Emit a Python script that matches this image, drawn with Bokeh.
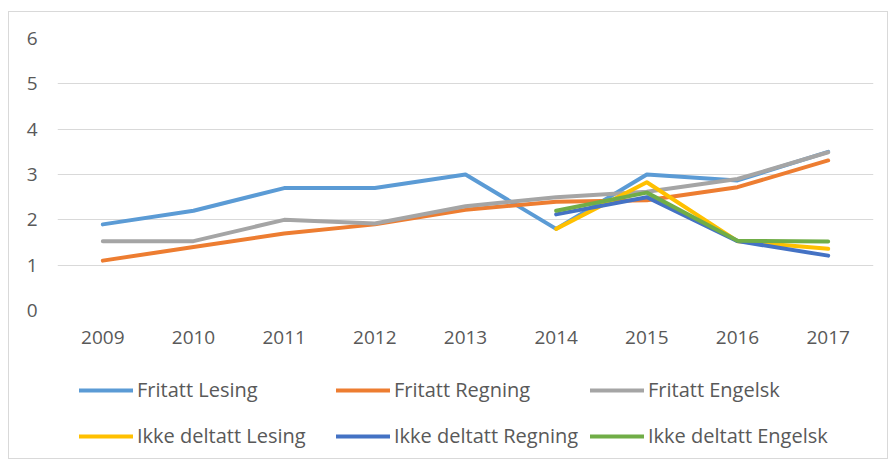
from bokeh.plotting import figure
from bokeh.layouts import column
from bokeh.models import Range1d, FactorRange, FixedTicker, Legend, LegendItem
from bokeh.embed import file_html
from bokeh.resources import INLINE

nan = float("nan")

years = ["2009", "2010", "2011", "2012", "2013", "2014", "2015", "2016", "2017"]
y_ticks = [0, 1, 2, 3, 4, 5, 6]

fritatt_lesing = [1.9, 2.2, 2.7, 2.7, 3.0, 1.8, 3.0, 2.87, 3.5]
fritatt_regning = [1.1, 1.4, 1.7, 1.9, 2.22, 2.4, 2.43, 2.72, 3.31]
fritatt_engelsk = [1.53, 1.53, 2.0, 1.92, 2.3, 2.5, 2.62, 2.9, 3.49]
ikke_deltatt_lesing = [nan, nan, nan, nan, nan, 1.8, 2.83, 1.53, 1.36]
ikke_deltatt_regning = [nan, nan, nan, nan, nan, 2.12, 2.5, 1.53, 1.21]
ikke_deltatt_engelsk = [nan, nan, nan, nan, nan, 2.2, 2.6, 1.54, 1.52]

series = [
    ("Fritatt Lesing", fritatt_lesing, "#5B9BD5"),
    ("Fritatt Regning", fritatt_regning, "#ED7D31"),
    ("Fritatt Engelsk", fritatt_engelsk, "#A5A5A5"),
    ("Ikke deltatt Lesing", ikke_deltatt_lesing, "#FFC000"),
    ("Ikke deltatt Regning", ikke_deltatt_regning, "#4472C4"),
    ("Ikke deltatt Engelsk", ikke_deltatt_engelsk, "#70AD47"),
]

FONT = "Open Sans"
TXT = "#595959"
W = 878

# main chart
p = figure(
    width=W, height=348,
    x_range=FactorRange(*years, range_padding=0),
    y_range=Range1d(0, 6),
    output_backend="svg", toolbar_location=None,
    min_border_left=48, min_border_right=14, min_border_top=26, min_border_bottom=50,
)
p.outline_line_color = None
p.background_fill_color = "white"
p.border_fill_color = "white"

for name, vals, col in series:
    p.line(years, vals, line_color=col, line_width=4, line_join="round", line_cap="round")

p.xgrid.grid_line_color = None
p.ygrid.grid_line_color = "#D9D9D9"
p.ygrid.grid_line_width = 1
p.yaxis.ticker = FixedTicker(ticks=y_ticks)

for ax in (p.xaxis[0], p.yaxis[0]):
    ax.axis_line_color = None
    ax.major_tick_line_color = None
    ax.minor_tick_line_color = None
    ax.major_tick_out = 0
    ax.major_tick_in = 0
    ax.major_label_text_font = FONT
    ax.major_label_text_font_size = "19px"
    ax.major_label_text_color = TXT
p.yaxis.major_label_standoff = 20
p.xaxis.major_label_standoff = 20

# legend strip below the chart (keys in a 2 x 3 grid, as in the reference)
lp = figure(
    width=W, height=98,
    x_range=Range1d(0, 1), y_range=Range1d(0, 1),
    x_axis_type=None, y_axis_type=None,
    output_backend="svg", toolbar_location=None,
    min_border_left=48, min_border_right=14, min_border_top=0, min_border_bottom=0,
)
lp.outline_line_color = None
lp.grid.visible = False
lp.border_fill_color = "white"

col_x = [22, 279, 533]
row_y = [55, 9]

for i, (name, vals, col) in enumerate(series):
    r = lp.line([nan], [nan], line_color=col, line_width=4, line_cap="round")
    lg = Legend(
        items=[LegendItem(label=name, renderers=[r])],
        location=(col_x[i % 3], row_y[i // 3]),
        margin=0, padding=0,
        glyph_width=54, glyph_height=26,
        label_standoff=4,
        label_height=26,
        label_text_font=FONT,
        label_text_font_size="20px",
        label_text_color=TXT,
        border_line_color=None,
        background_fill_alpha=0,
    )
    lp.add_layout(lg)

layout = column(p, lp, spacing=0)
layout.styles = {"margin-left": "8px", "margin-top": "11px", "border": "1px solid #D9D9D9"}

open("out.html", "w").write(file_html(layout, INLINE))
